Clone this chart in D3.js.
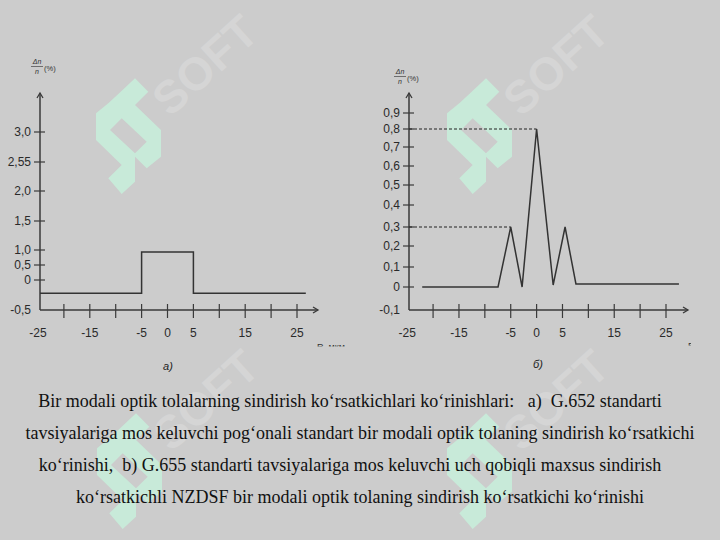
<!DOCTYPE html>
<html><head><meta charset="utf-8">
<script src="https://cdn.jsdelivr.net/npm/d3@7"></script>
<style>html,body{margin:0;padding:0;background:#cccccc;}svg{display:block;}</style>
</head><body>
<svg id="c" width="720" height="540"></svg>
<script>
// ---- data ----
// chart a) : step index profile (G.652)
const aYTicks = [-0.5, 0, 0.5, 1.0, 1.5, 2.0, 2.55, 3.0];
const aYTickLabels = ["-0,5", "0", "0,5", "1,0", "1,5", "2,0", "2,55", "3,0"];
const aXTicks = [-20, -15, -10, -5, 0, 5, 10, 15, 20, 25];
const aXLabels = [-25, -15, -5, 0, 5, 15, 25];
const aProfileR = [-24.6, -5, -5, 5, 5, 26.7];
const aProfileN = [-0.22, -0.22, 0.93, 0.93, -0.22, -0.22];
// chart b) : NZDSF triple-clad profile (G.655)
const bYTicks = [-0.1, 0, 0.1, 0.2, 0.3, 0.4, 0.5, 0.6, 0.7, 0.8, 0.9];
const bYTickLabels = ["-0,1", "0", "0,1", "0,2", "0,3", "0,4", "0,5", "0,6", "0,7", "0,8", "0,9"];
const bXTicks = [-20, -15, -10, -5, 0, 5, 10, 15, 20, 25];
const bXLabels = [-25, -15, -5, 0, 5, 15, 25];
const bProfileR = [-22.1, -7.45, -5, -2.8, 0, 3.2, 5.5, 7.6, 27.5];
const bProfileN = [0, 0, 0.3, 0, 0.8, 0.01, 0.3, 0.015, 0.015];
const bGuides = [{r: 0, n: 0.8}, {r: -5, n: 0.3}];
const captionLines = [
  "Bir modali optik tolalarning sindirish ko\u2018rsatkichlari ko\u2018rinishlari:\u00a0\u00a0 a)\u00a0 G.652 standarti",
  "tavsiyalariga mos keluvchi pog\u2018onali standart bir modali optik tolaning sindirish ko\u2018rsatkichi",
  "ko\u2018rinishi,\u00a0 b) G.655 standarti tavsiyalariga mos keluvchi uch qobiqli maxsus sindirish",
  "ko\u2018rsatkichli NZDSF bir modali optik tolaning sindirish ko\u2018rsatkichi ko\u2018rinishi"
];

const svg = d3.select("#c");
svg.append("rect").attr("width", 720).attr("height", 540).attr("fill", "#cccccc");

// ---- watermark ----
const logoOuter = [[39,0.3],[52.3,13.7],[39,27],[65,52],[65,78.7],[50.7,90.3],[39,78.7],[39,103.7],[25.7,116],[12.3,100.3],[25.7,87],[0,62],[0,35.3],[12.3,25.3],[24.7,13.7]];
const logoHole = [[25.7,40.3],[50.7,63.7],[39,75.3],[14,52]];
const wmPos = [[96,78],[447,78],[97,413],[447,413]];
const wm = svg.append("g");
wmPos.forEach(([ox, oy]) => {
  const g = wm.append("g").attr("transform", `translate(${ox},${oy})`);
  const p = "M" + logoOuter.map(d => d.join(",")).join("L") + "Z M" + logoHole.map(d => d.join(",")).join("L") + "Z";
  g.append("path").attr("d", p).attr("fill", "#c8ead9").attr("fill-rule", "evenodd");
  g.append("text").attr("transform", "translate(74,40) rotate(-42)")
    .attr("font-family", "Liberation Sans, Arial, sans-serif").attr("font-weight", "bold")
    .attr("font-size", 46).attr("fill", "#d5d5d5").text("SOFT");
});

const axisColor = "#3a3a3a";
const font = "Liberation Sans, Arial, sans-serif";

function drawChart(cfg) {
  const g = svg.append("g");
  const x = d3.scaleLinear().domain([-25, 25]).range(cfg.xRange);
  const y = d3.scaleLinear().domain(cfg.yTicks).range(cfg.yRange);
  const x0 = cfg.axisX, y0 = cfg.axisY;
  // axes lines
  g.append("line").attr("x1", x0).attr("x2", x0).attr("y1", y0).attr("y2", cfg.yTop)
    .attr("stroke", axisColor).attr("stroke-width", 1.5);
  g.append("path").attr("d", `M${x0-3},${cfg.yTop+5}L${x0},${cfg.yTop}L${x0+3},${cfg.yTop+5}`)
    .attr("fill", "none").attr("stroke", axisColor).attr("stroke-width", 1.3);
  g.append("line").attr("x1", x0).attr("x2", cfg.xEnd).attr("y1", y0).attr("y2", y0)
    .attr("stroke", axisColor).attr("stroke-width", 1.5);
  g.append("path").attr("d", `M${cfg.xEnd-5},${y0-3}L${cfg.xEnd},${y0}L${cfg.xEnd-5},${y0+3}`)
    .attr("fill", "none").attr("stroke", axisColor).attr("stroke-width", 1.3);
  // y ticks
  cfg.yTicks.forEach((v, i) => {
    if (v === cfg.yTicks[0]) return;
    g.append("line").attr("x1", x0 - 6).attr("x2", x0 + 5).attr("y1", y(v)).attr("y2", y(v))
      .attr("stroke", axisColor).attr("stroke-width", 1.2);
  });
  cfg.yTicks.forEach((v, i) => {
    g.append("text").attr("x", x0 - 9).attr("y", y(v) + 4).attr("text-anchor", "end")
      .attr("font-family", font).attr("font-size", 12).attr("fill", "#2a2a2a").text(cfg.yLabels[i]);
  });
  // x ticks
  cfg.xTicks.forEach(v => {
    g.append("line").attr("x1", x(v)).attr("x2", x(v)).attr("y1", y0 - 6).attr("y2", y0 + 8)
      .attr("stroke", axisColor).attr("stroke-width", 1.2);
  });
  cfg.xLabels.forEach(v => {
    g.append("text").attr("x", x(v)).attr("y", y0 + 27).attr("text-anchor", "middle")
      .attr("font-family", font).attr("font-size", 12).attr("fill", "#2a2a2a").text(v);
  });
  // guides
  (cfg.guides || []).forEach(d => {
    g.append("line").attr("x1", x0).attr("x2", x(d.r)).attr("y1", y(d.n)).attr("y2", y(d.n))
      .attr("stroke", "#222").attr("stroke-width", 1).attr("stroke-dasharray", "3,2");
  });
  // profile
  const pts = cfg.r.map((r, i) => [r, cfg.n[i]]);
  g.append("path").attr("d", d3.line().x(d => x(d[0])).y(d => y(d[1]))(pts))
    .attr("fill", "none").attr("stroke", "#333").attr("stroke-width", 1.5);
  // y label
  const L = cfg.yLab;
  g.append("text").attr("x", L.x + 5).attr("y", L.y).attr("text-anchor", "middle")
    .attr("font-family", font).attr("font-style", "italic").attr("font-size", 7).attr("fill", "#333").text("\u0394n");
  g.append("line").attr("x1", L.x - 1).attr("x2", L.x + 11).attr("y1", L.y + 2.5).attr("y2", L.y + 2.5)
    .attr("stroke", "#444").attr("stroke-width", 0.7);
  g.append("text").attr("x", L.x + 5).attr("y", L.y + 10).attr("text-anchor", "middle")
    .attr("font-family", font).attr("font-style", "italic").attr("font-size", 7).attr("fill", "#333").text("n");
  g.append("text").attr("x", L.x + 12).attr("y", L.y + 6.5).attr("font-family", font)
    .attr("font-size", 7.5).attr("fill", "#333").text("(%)");
  // sub label
  g.append("text").attr("x", cfg.sub.x).attr("y", cfg.sub.y).attr("text-anchor", "middle")
    .attr("font-family", font).attr("font-style", "italic").attr("font-size", 11).attr("fill", "#222").text(cfg.sub.t);
  // clipped axis title
  const cid = "clip" + cfg.sub.t.charCodeAt(0);
  svg.append("clipPath").attr("id", cid).append("rect")
    .attr("x", cfg.rLab.x - 2).attr("y", cfg.rLab.y - 12).attr("width", cfg.rLab.w).attr("height", 8.5);
  g.append("text").attr("clip-path", `url(#${cid})`).attr("x", cfg.rLab.x).attr("y", cfg.rLab.y)
    .attr("font-family", font).attr("font-size", 9).attr("fill", "#333").text("R, \u043c\u043a\u043c");
}

drawChart({
  xRange: [38, 297], yTicks: aYTicks, yRange: [310, 280, 265, 250, 221, 191, 162, 132],
  yLabels: aYTickLabels, xTicks: aXTicks, xLabels: aXLabels, r: aProfileR, n: aProfileN,
  axisX: 40, axisY: 310, yTop: 93, xEnd: 318,
  yLab: {x: 32, y: 64}, sub: {x: 168, y: 370, t: "a)"}, rLab: {x: 317, y: 350, w: 40}
});
drawChart({
  xRange: [407.2, 666], yTicks: bYTicks, yRange: [310, 287, 267, 246, 227, 205, 185, 166, 147, 129, 113],
  yLabels: bYTickLabels, xTicks: bXTicks, xLabels: bXLabels, r: bProfileR, n: bProfileN,
  guides: bGuides,
  axisX: 409, axisY: 310, yTop: 93, xEnd: 688,
  yLab: {x: 395, y: 74}, sub: {x: 538, y: 368, t: "\u0431)"}, rLab: {x: 688, y: 349, w: 5}
});

// caption (lines 1 and 3 sit slightly left of centre in the reference)
const capCx = [350, 360, 350, 360];
const cap = svg.append("g");
captionLines.forEach((t, i) => {
  cap.append("text").attr("x", capCx[i]).attr("y", 407 + i * 32).attr("text-anchor", "middle")
    .attr("font-family", "Liberation Serif, 'Times New Roman', serif").attr("font-size", 18)
    .attr("fill", "#111").text(t);
});
</script>
</body></html>
